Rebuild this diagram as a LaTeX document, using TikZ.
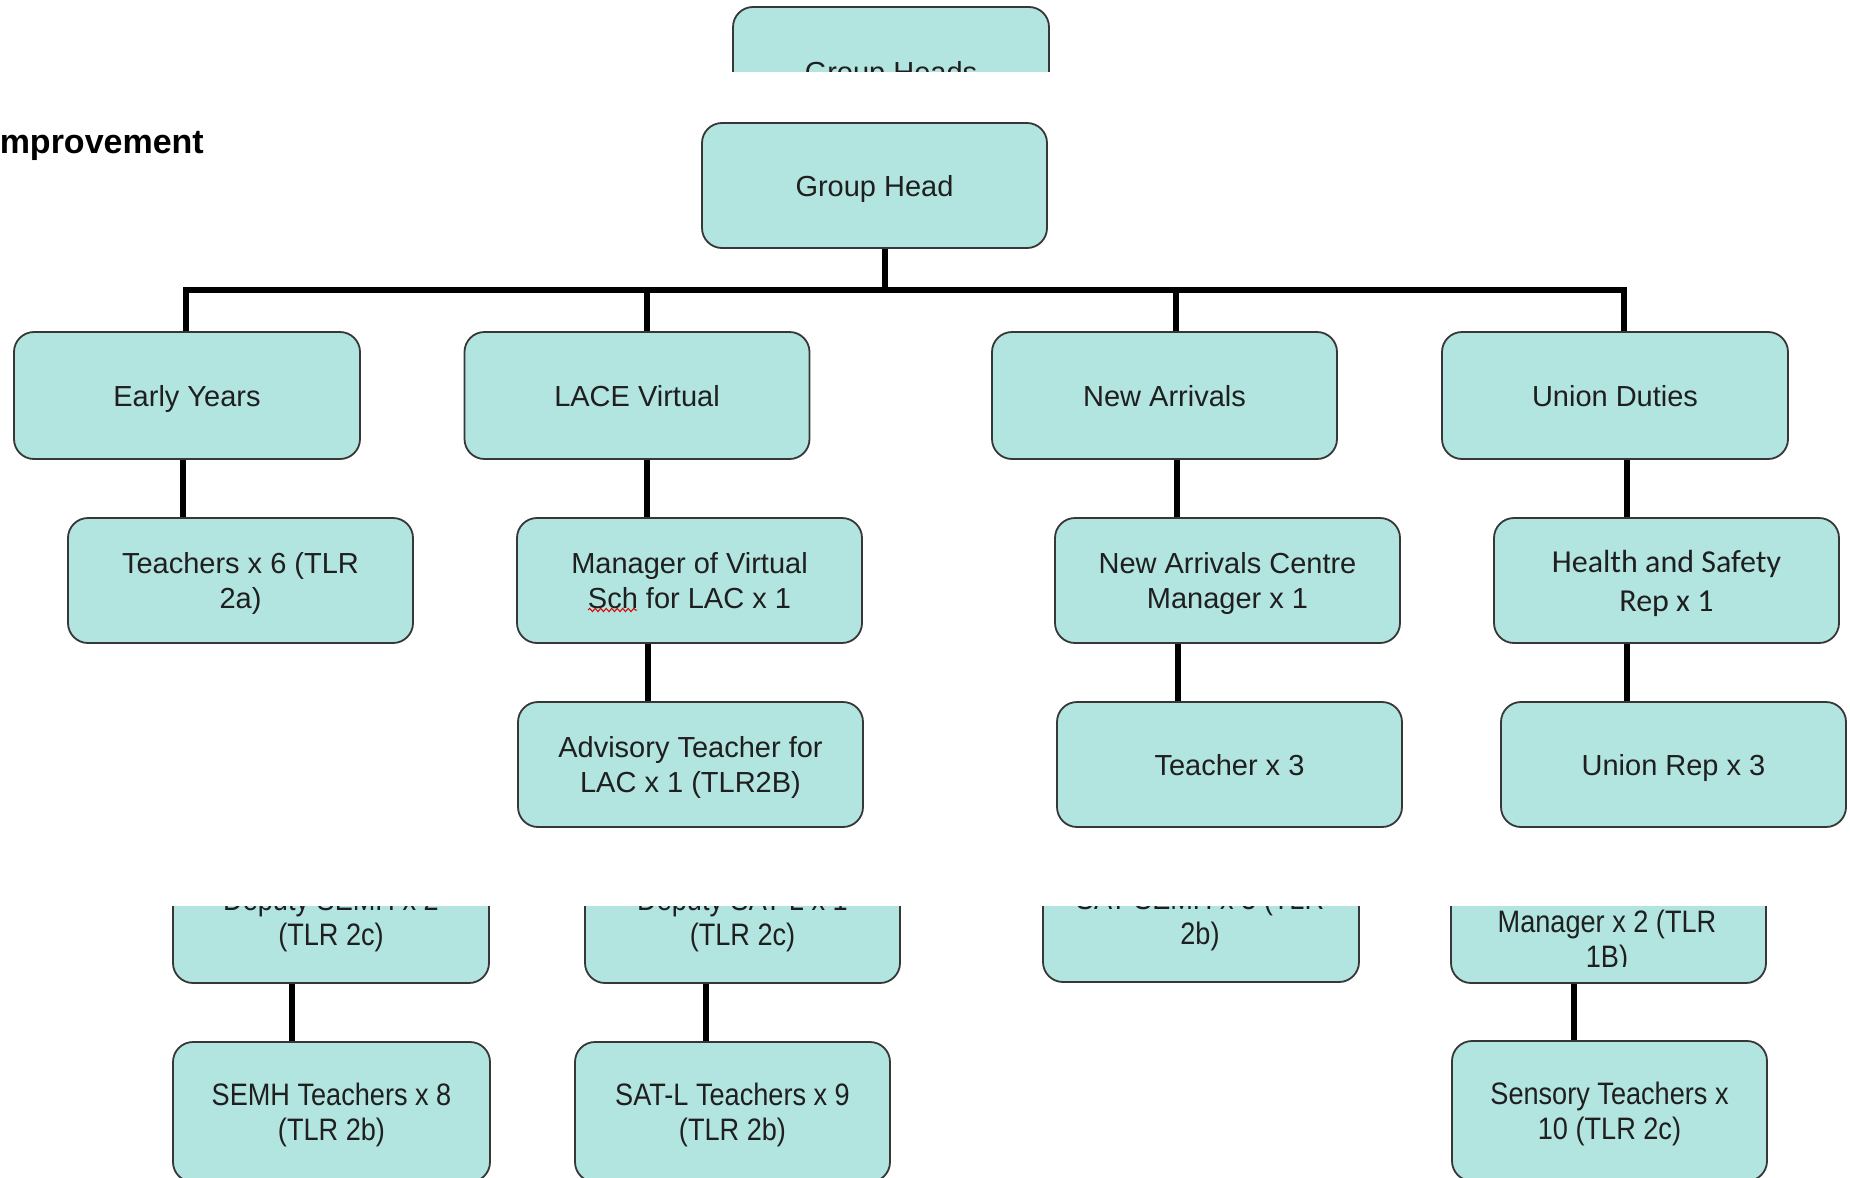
\documentclass[tikz,border=0pt]{standalone}
\usepackage{fontspec}
\setmainfont{Liberation Sans}
\newfontfamily\carl{Carlito}
\newfontfamily\narrow[FakeStretch=0.875]{Liberation Sans}
\usetikzlibrary{decorations.pathmorphing}
\definecolor{boxfill}{RGB}{178,228,224}
\definecolor{boxline}{RGB}{55,55,55}
\tikzset{
  box/.style={draw=boxline, line width=1.8pt, fill=boxfill, rounded corners=20pt,
    inner sep=0pt, align=center, text=black!88, text depth=0pt,
    font=\fontsize{29}{35}\selectfont},
  wh/.style 2 args={minimum width=#1, minimum height=#2},
  narrowtxt/.style={font=\narrow\fontsize{31}{35}\selectfont},
  conn/.style={line width=6.5pt, black},
  plain/.style={inner sep=0pt, align=center, text=black!88}
}
\begin{document}
\begin{tikzpicture}[x=1pt,y=-1pt]
\useasboundingbox (0,0) rectangle (1850,1178);
\fill[white] (0,0) rectangle (1850,1178);

% clipped top box
\begin{scope}
  \clip (0,0) rectangle (1850,71);
  \node[box, wh={316}{130}] (GHs) at (891,72) {Group Heads};
\end{scope}

\node[plain, anchor=base east, font=\bfseries\fontsize{34}{40}\selectfont, text=black] (imp) at (204,153) {mprovement};

% main tree
\node[box, wh={345}{125}] (GH) at (874.5,185.5) {Group Head};

\node[box, wh={346}{127}] (EY) at (187,395.5) {Early Years};
\node[box, wh={345}{127}] (LACE) at (637,395.5) {LACE Virtual};
\node[box, wh={345}{127}] (NA) at (1164.5,395.5) {New Arrivals};
\node[box, wh={346}{127}] (UD) at (1615,395.5) {Union Duties};

\node[box, wh={345}{125}] (TT) at (240.5,580.5) {Teachers x 6 (TLR\\2a)};
\node[box, wh={345}{125}] (MV) at (689.5,580.5) {Manager of Virtual\\Sch for LAC x 1};
\node[box, wh={345}{125}] (NAC) at (1227.5,580.5) {New Arrivals Centre\\Manager x 1};
\node[box, wh={345}{125}, font=\carl\fontsize{32}{39}\selectfont] (HS) at (1666.5,580.5) {Health and Safety\\Rep x 1};

\node[box, wh={345}{125}] (AT) at (690.5,764.5) {Advisory Teacher for\\LAC x 1 (TLR2B)};
\node[box, wh={345}{125}] (TX) at (1229.5,764.5) {Teacher x 3};
\node[box, wh={345}{125}] (UR) at (1673.5,764.5) {Union Rep x 3};

% spell-check squiggle under "Sch"
\draw[red!85!black, line width=1pt, decorate, decoration={snake, amplitude=1.6pt, segment length=5.5pt}] (588,610) -- (637,610);

% connectors
\coordinate (bus) at (885,290);
\draw[conn] ([xshift=10.5]GH.south) -- (bus);
\draw[conn] ([xshift=-1]EY.north) |- (bus);
\draw[conn] ([xshift=9]UD.north) |- (bus);
\draw[conn] ([xshift=10]LACE.north) -- ([xshift=10]LACE.north |- bus);
\draw[conn] ([xshift=11.5]NA.north) -- ([xshift=11.5]NA.north |- bus);

\draw[conn] ([xshift=-4]EY.south) -- ([xshift=-4]EY.south |- TT.north);
\draw[conn] ([xshift=10]LACE.south) -- ([xshift=10]LACE.south |- MV.north);
\draw[conn] ([xshift=12.5]NA.south) -- ([xshift=12.5]NA.south |- NAC.north);
\draw[conn] ([xshift=12]UD.south) -- ([xshift=12]UD.south |- HS.north);

\draw[conn] ([xshift=-41.5]MV.south) -- ([xshift=-41.5]MV.south |- AT.north);
\draw[conn] ([xshift=-49.5]NAC.south) -- ([xshift=-49.5]NAC.south |- TX.north);
\draw[conn] ([xshift=-39.5]HS.south) -- ([xshift=-39.5]HS.south |- UR.north);

% lower section (clipped at top)
\begin{scope}
  \clip (0,906) rectangle (1850,1178);
  \node[box, wh={316}{126}, narrowtxt, text depth=6.5pt] (SD) at (331,920) {Deputy SEMH x 2\\(TLR 2c)};
  \node[box, wh={315}{126}, narrowtxt, text depth=6.5pt] (SATD) at (742.5,920) {Deputy SAT-L x 1\\(TLR 2c)};
  \node[box, wh={316}{126}] (EAL) at (1201,919) {};
  \node[plain, narrowtxt, text depth=0pt] (EALt) at (1200,916) {SAT-SEMH x 3 (TLR\\2b)};
  \node[box, wh={315}{126}] (SM) at (1608.5,920) {};
  \begin{scope}
    \clip (1451,906) rectangle (1766,966);
    \node[plain, narrowtxt, text depth=0pt] (SMt) at (1607,939) {Manager x 2 (TLR\\1B)};
  \end{scope}

  \node[box, wh={317}{140}, narrowtxt] (SEMH) at (331.5,1112) {SEMH Teachers x 8\\(TLR 2b)};
  \node[box, wh={315}{140}, narrowtxt] (SATL) at (732.5,1112) {SAT-L Teachers x 9\\(TLR 2b)};
  \node[box, wh={315}{140}, narrowtxt] (SENS) at (1609.5,1111) {Sensory Teachers x\\10 (TLR 2c)};
\end{scope}

\draw[conn] ([xshift=-39]SD.south) -- ([xshift=-39]SD.south |- SEMH.north);
\draw[conn] ([xshift=-36.5]SATD.south) -- ([xshift=-36.5]SATD.south |- SATL.north);
\draw[conn] ([xshift=-34.5]SM.south) -- ([xshift=-34.5]SM.south |- SENS.north);
\end{tikzpicture}
\end{document}
